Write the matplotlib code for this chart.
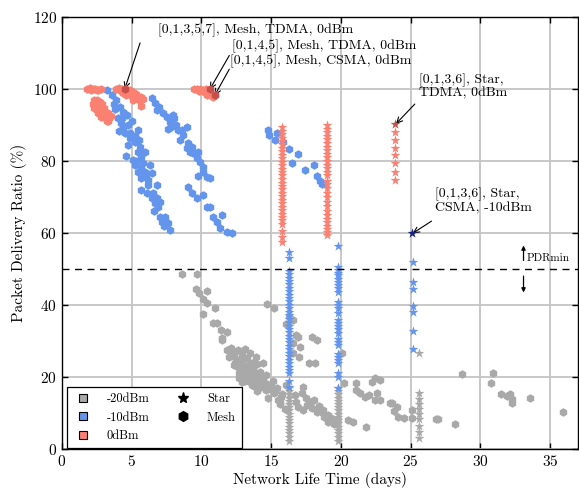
import matplotlib
matplotlib.use("Agg")
import matplotlib.pyplot as plt
from matplotlib.lines import Line2D

plt.rcParams['font.family'] = ['cmr10', 'DejaVu Serif']
plt.rcParams['mathtext.fontset'] = 'cm'
plt.rcParams['axes.unicode_minus'] = False
plt.rcParams['axes.formatter.use_mathtext'] = True

GRAY = '#a9a9a9'
BLUE = '#6495ed'
RED = '#fa8072'

# ---------------- data ----------------
# 0 dBm, mesh
red_mesh_x = [1.8, 2.0, 2.2, 2.4, 2.6, 2.8, 2.1, 2.5,
              2.3, 2.5, 2.7, 2.4, 2.6, 2.9, 2.3, 2.5, 2.8, 3.0, 2.6, 2.9, 3.1, 3.3, 2.8, 3.1,
              3.4, 3.2, 2.45, 2.7, 3.0, 2.4, 3.5, 3.3, 2.2,
              3.9, 4.1, 4.3, 4.6, 4.9, 4.2, 4.5, 4.8, 5.1, 5.3, 4.6, 5.0, 5.4, 5.7, 5.1, 5.5,
              5.8, 5.7, 4.4, 5.2,
              9.5, 9.7, 9.9, 10.1, 10.3, 9.8, 10.2, 10.5, 10.7, 10.4, 10.8, 11.0, 10.6]
red_mesh_y = [100, 100.2, 100, 100, 99.8, 100, 99.6, 99.6,
              96.8, 97, 96.5, 95.8, 95.5, 95.8, 94.6, 94.2, 94.5, 94.8, 93.3, 93.0, 93.6, 93.2, 92.2, 92.0,
              91.8, 91.2, 95.0, 94.0, 92.6, 96.2, 92.5, 91.0, 95.8,
              100, 100.2, 100, 100, 99.8, 99.3, 99.2, 99, 99.2, 98.6, 98.3, 98.0, 97.6, 97.8, 97.0, 96.8,
              97.2, 95.3, 98.8, 98.4,
              100, 100.1, 100, 99.8, 100, 99.4, 99.2, 99.0, 98.6, 98.3, 97.8, 98.2, 99.5]

# -10 dBm, mesh
blue_mesh_x = [3.2, 3.56, 3.9, 4.16, 4.4, 4.28, 4.64, 4.4, 4.76, 4.88, 4.5, 4.88, 5.47, 5.24, 5.6, 5.47,
               5.95, 5.7, 4.6, 5.1, 5.24, 5.7, 6.3, 5.47, 5.95, 6.43, 5.7, 6.2, 5.7, 6.8, 6.2, 6.07,
               6.43, 6.8, 6.67, 7.03, 6.9, 7.03, 7.4, 7.15, 7.6, 7.75, 3.8, 4.0, 4.2, 5.0, 5.2, 5.5,
               4.1, 4.7, 5.3, 3.7, 5.8, 6.0, 6.5, 6.6, 7.3,
               6.43, 6.67, 6.98, 6.8, 7.27, 7.5, 7.75, 8.0, 8.2, 7.63, 8.34, 8.7, 8.46, 9.06, 8.94,
               9.3, 9.42, 9.66, 9.9, 10.14, 10.4, 10.6, 9.06, 9.3, 9.66, 10.14, 10.4, 10.6, 10.85,
               11.1, 11.45, 11.33, 11.8, 12.17, 7.98, 7.85, 8.58, 8.94, 9.18, 9.78, 10.1, 9.78,
               14.8, 14.85, 15.4, 15.3, 15.85, 16.3, 16.5, 16.9, 17.4, 18.1, 18.3, 18.5, 18.65]
blue_mesh_y = [99.7, 98.3, 96.9, 95, 93.7, 91.9, 92.8, 89, 90, 87.7, 87.7, 86.3, 88.6, 85.4, 84, 82.6,
               82.6, 81.2, 81.4, 80.3, 78.9, 78.2, 78.9, 77, 77, 76.6, 75.2, 74.7, 71.9, 73.3, 73.3, 71,
               69.6, 69.6, 68.2, 68.7, 67.3, 64.5, 64.5, 63.1, 62.7, 60.8, 94.5, 92.0, 90.5, 91.0, 86.8, 85.8,
               88.2, 84.5, 80.0, 95.8, 79.5, 75.8, 71.2, 66.0, 61.8,
               97.4, 96, 95.1, 94.2, 93.2, 92.3, 90.9, 91.9, 90, 89, 88.6, 87.2, 85.8, 84.9, 83.5,
               84, 82.1, 80.7, 79.8, 78.4, 75.6, 75.4, 72.9, 71, 69.6, 70.5, 67.3, 67.3, 64.5,
               63.1, 65, 61.3, 60.4, 59.9, 92.8, 89.5, 88.6, 89.5, 82.6, 82.6, 77, 75.8,
               88.6, 87.2, 87.8, 85.8, 85.3, 83.3, 79.4, 82, 77.5, 78.9, 75.8, 74.4, 73.6]

# -20 dBm, mesh
gray_mesh_x = [8.6, 9.65, 9.6, 9.8, 10.4, 10.1, 10.4, 11.0, 10.1, 10.85, 11.1, 11.4, 11.8, 11.5, 11.45,
               11.8, 12.1, 12.3, 12.6, 12.0, 12.5, 12.9, 13.1, 13.3, 12.8, 13.2, 13.6, 13.0, 13.4, 13.7,
               14.0, 13.3, 13.6, 13.9, 14.2, 13.1, 13.5, 14.0, 14.4, 14.7, 13.8, 14.3, 15.0, 15.4, 14.6,
               12.4, 12.7, 13.9, 14.4, 14.7, 15.2,
               12.2, 12.9, 13.5, 12.6, 13.2, 13.8, 14.1, 13.0, 12.7, 13.6, 14.5, 14.9, 15.3, 15.8, 14.2,
               14.8, 15.5, 13.4, 12.3, 12.9, 13.7, 14.6, 15.1, 15.6, 14.0,
               16.3, 16.6, 16.1, 16.8, 16.9, 16.6, 17.1, 17.9, 18.3, 16.6, 17.0, 17.7, 18.15, 16.1, 17.3,
               17.2, 17.5, 16.8, 17.8, 17.9, 17.3, 18.3, 18.7, 19.1, 19.3, 19.1, 19.7, 18.1, 18.7, 16.7,
               15.7, 15.2, 15.6, 16.0, 16.9, 17.6, 18.4, 18.8, 19.5,
               20.1, 20.2, 20.5, 20.9, 21.8, 21.1, 21.1, 21.4, 21.7, 22.0, 22.45, 22.2, 22.8, 22.6, 22.45,
               22.8, 23.5, 23.65, 24.0, 23.8, 24.1, 24.5, 25.1, 25.1, 26.8, 26.95, 28.2, 28.7, 30.9, 30.8,
               31.5, 31.9, 32.1, 32.3, 32.3, 33.6, 35.9]
gray_mesh_y = [48.6, 48.5, 44.4, 43.4, 43.9, 41.7, 40.6, 39.1, 37.5, 35.1, 35.0, 33.0, 32.5, 30.8, 30.3,
               27.5, 28.0, 26.8, 27.5, 25.5, 25.0, 26.0, 27.8, 25.2, 23.8, 23.0, 24.0, 22.2, 21.5, 22.6,
               23.5, 20.3, 19.8, 20.8, 21.5, 19.0, 18.5, 18.8, 19.5, 18.0, 17.5, 17.2, 17.6, 17.0, 16.4,
               24.0, 21.0, 25.5, 24.0, 40.3, 39.1,
               26.2, 24.6, 26.6, 22.8, 21.9, 21.0, 20.2, 20.9, 19.8, 17.8, 17.9, 16.8, 16.0, 15.2, 18.2,
               14.2, 13.6, 23.4, 23.2, 18.6, 22.0, 20.6, 18.8, 13.0, 16.0,
               36.9, 35.8, 34.7, 31.7, 31.1, 29.4, 28.4, 31.2, 30.3, 26.7, 25.6, 23.9, 23.9, 17.7, 17.3,
               15.5, 14.2, 13.1, 13.1, 11.4, 10.8, 10.4, 10.0, 9.4, 8.6, 7.6, 8.1, 13.6, 10.8, 15.0,
               14.5, 15.5, 12.5, 11.0, 11.8, 12.3, 12.0, 9.0, 7.0,
               26.7, 18.3, 8.0, 7.6, 6.1, 18.3, 16.4, 15.5, 14.5, 15.0, 19.7, 18.7, 19.2, 15.5, 13.6,
               13.6, 12.8, 12.7, 11.8, 10.5, 9.0, 8.6, 10.8, 8.6, 8.2, 8.2, 7.0, 20.9, 21.0, 18.3,
               15.4, 14.6, 15.4, 13.8, 12.9, 14.1, 10.4]

# 0 dBm, star
red_star_x = [15.8] * 32 + [19.0] * 30 + [23.9] * 7
red_star_y = [89.4, 88.3, 87.4, 86.5, 85.5, 84.6, 83.6, 82.7, 81.7, 80.8, 79.8, 78.8, 77.9, 76.9, 76.0,
              75.0, 74.0, 73.1, 72.1, 71.2, 70.2, 69.2, 68.3, 67.3, 66.4, 65.4, 64.4, 63.5, 62.5, 60.6,
              59.0, 57.5,
              90.0, 89.0, 88.0, 87.0, 86.0, 85.0, 84.0, 83.0, 82.0, 81.0, 80.0, 79.0, 78.0, 77.0, 76.0,
              74.5, 73.5, 72.5, 71.0, 70.0, 68.5, 67.5, 66.0, 65.0, 64.0, 63.0, 62.0, 61.0, 60.2, 59.4,
              88.0, 85.8, 83.6, 81.7, 79.4, 77.0, 74.7]

# -10 dBm, star
blue_star_x = [16.3] * 35 + [19.8] * 29 + [25.15] * 7
blue_star_y = [54.7, 53.0, 49.5, 48.6, 47.6, 46.7, 45.7, 44.8, 43.8, 42.9, 41.9, 41.0, 40.0, 39.1, 38.1,
               37.2, 36.2, 35.3, 34.3, 33.4, 32.4, 31.5, 30.5, 29.6, 28.6, 27.7, 26.7, 25.8, 24.8, 23.9,
               22.9, 22.0, 21.0, 19.0, 17.2,
               56.4, 50.6, 49.8, 49.0, 48.3, 47.2, 46.5, 45.6, 44.6, 43.7, 40.9, 40.0, 39.2, 37.9, 35.8,
               35.0, 34.1, 33.2, 32.1, 30.6, 29.8, 28.9, 26.5, 25.6, 24.7, 23.8, 21.0, 20.1, 16.9,
               52.0, 46.4, 44.4, 39.7, 38.0, 32.8, 27.8]

# -20 dBm, star
gray_star_x = [16.3] * 17 + [19.8] * 17 + [25.6] * 10
gray_star_y = [17.0, 16.1, 15.2, 14.3, 13.4, 12.5, 11.6, 10.7, 9.8, 8.9, 8.0, 7.1, 6.2, 5.3, 4.4, 3.3, 2.2,
               17.0, 16.1, 15.2, 14.3, 13.4, 12.5, 11.6, 10.7, 9.8, 8.9, 8.0, 7.1, 6.2, 5.3, 4.4, 3.3, 2.2,
               26.6, 15.5, 14.0, 12.6, 11.2, 9.8, 8.2, 6.5, 4.8, 3.0]

# highlighted (annotated) points
hl_mesh_x = [4.5, 10.6, 10.95]
hl_mesh_y = [100.0, 99.9, 98.2]
hl_star_red = (23.9, 90.3)
hl_star_blue = (25.1, 59.9)

PDR_MIN = 50

# ---------------- figure ----------------
fig = plt.figure(figsize=(5.79, 4.91), dpi=100)
ax = fig.add_axes([0.1071, 0.0855, 0.891, 0.880])

ax.grid(True, color='#c4c4c4', linewidth=1.3, zorder=0)
ax.set_axisbelow(True)

hs = 38
ss = 55
ax.scatter(gray_mesh_x, gray_mesh_y, s=hs, marker='h', color=GRAY, linewidths=0, zorder=2)
ax.scatter(gray_star_x, gray_star_y, s=ss, marker='*', color=GRAY, linewidths=0, zorder=2)
ax.scatter(blue_mesh_x, blue_mesh_y, s=hs, marker='h', color=BLUE, linewidths=0, zorder=3)
ax.scatter(blue_star_x, blue_star_y, s=ss, marker='*', color=BLUE, linewidths=0, zorder=3)
ax.scatter(red_mesh_x, red_mesh_y, s=hs, marker='h', color=RED, linewidths=0, zorder=4)
ax.scatter(red_star_x, red_star_y, s=ss, marker='*', color=RED, linewidths=0, zorder=4)
ax.scatter(hl_mesh_x, hl_mesh_y, s=hs, marker='h', color='#c8504a', linewidths=0, zorder=5)
ax.scatter([hl_star_red[0]], [hl_star_red[1]], s=ss, marker='*', color='#c8504a', linewidths=0, zorder=5)
ax.scatter([hl_star_blue[0]], [hl_star_blue[1]], s=ss, marker='*', color='#1a237e', linewidths=0, zorder=5)

ax.axhline(PDR_MIN, color='black', linestyle=(0, (5, 4)), linewidth=1.0, zorder=6)

ax.set_xlim(0, 37)
ax.set_ylim(0, 120)
ax.set_xticks([0, 5, 10, 15, 20, 25, 30, 35])
ax.set_yticks([0, 20, 40, 60, 80, 100, 120])
ax.tick_params(direction='in', top=True, right=True, labelsize=11, length=4, width=1)
for sp in ax.spines.values():
    sp.set_linewidth(1.0)

ax.set_xlabel('Network Life Time (days)', fontsize=11, labelpad=2)
ax.set_ylabel('Packet Delivery Ratio (%)', fontsize=11, labelpad=4)

arw = dict(arrowstyle='->', color='black', lw=0.8, shrinkA=0, shrinkB=0)
fs = 10
# texts
ax.text(6.85, 116.4, '[0,1,3,5,7], Mesh, TDMA, 0dBm', fontsize=fs, ha='left', va='center')
ax.text(12.2, 112.0, '[0,1,4,5], Mesh, TDMA, 0dBm', fontsize=fs, ha='left', va='center')
ax.text(12.05, 107.8, '[0,1,4,5], Mesh, CSMA, 0dBm', fontsize=fs, ha='left', va='center')
ax.text(25.6, 100.8, '[0,1,3,6], Star,\nTDMA, 0dBm', fontsize=fs, ha='left', va='center', linespacing=1.05)
ax.text(26.75, 68.9, '[0,1,3,6], Star,\nCSMA, -10dBm', fontsize=fs, ha='left', va='center', linespacing=1.05)
# arrows
ax.annotate('', xy=(4.5, 100.0), xytext=(5.6, 112.8), arrowprops=arw)
ax.annotate('', xy=(10.6, 99.9), xytext=(12.0, 109.3), arrowprops=arw)
ax.annotate('', xy=(10.95, 98.2), xytext=(12.0, 105.5), arrowprops=arw)
ax.annotate('', xy=(23.95, 90.3), xytext=(25.3, 95.8), arrowprops=arw)
ax.annotate('', xy=(25.15, 59.9), xytext=(26.5, 63.3), arrowprops=arw)

# PDRmin marker
ax.annotate('', xy=(33.1, 57.3), xytext=(33.1, 51.6),
            arrowprops=dict(arrowstyle='-|>', color='black', lw=0.9, mutation_scale=6))
ax.annotate('', xy=(33.1, 42.7), xytext=(33.1, 48.8),
            arrowprops=dict(arrowstyle='-|>', color='black', lw=0.9, mutation_scale=6))
ax.text(33.35, 52.9, 'PDRmin', fontsize=8, ha='left', va='center')

handles = [
    Line2D([], [], linestyle='', marker='s', markersize=6, markerfacecolor=GRAY, markeredgecolor='black', markeredgewidth=0.8),
    Line2D([], [], linestyle='', marker='s', markersize=6, markerfacecolor=BLUE, markeredgecolor='black', markeredgewidth=0.8),
    Line2D([], [], linestyle='', marker='s', markersize=6, markerfacecolor=RED, markeredgecolor='black', markeredgewidth=0.8),
    Line2D([], [], linestyle='', marker='*', markersize=8, color='black'),
    Line2D([], [], linestyle='', marker='h', markersize=7, color='black'),
]
labels = ['-20dBm', '-10dBm', '0dBm', 'Star', 'Mesh']
leg = ax.legend(handles, labels, ncol=2, loc='lower left', bbox_to_anchor=(0.009, 0.002),
                borderaxespad=0, fontsize=9, frameon=True, fancybox=False, framealpha=1,
                edgecolor='black', handletextpad=1.1, columnspacing=1.9, labelspacing=0.5,
                borderpad=0.5, handlelength=1.6)
leg.get_frame().set_linewidth(0.9)
leg.set_zorder(10)

fig.savefig('out.png', dpi=100)
